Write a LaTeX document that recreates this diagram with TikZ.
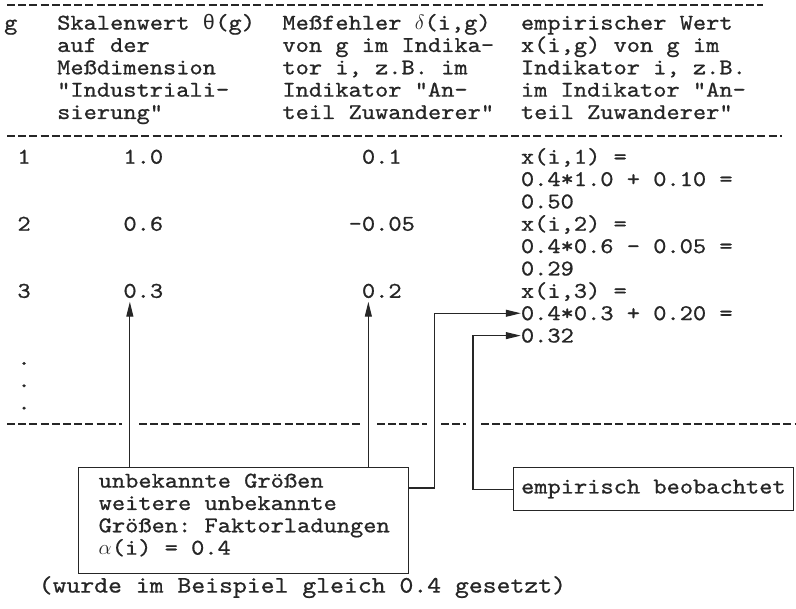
\documentclass[tikz,border=0pt]{standalone}
\usepackage{fontspec}
% typewriter face, widened to a 10-pitch grid
\setmonofont{lmmono10-regular.otf}[FakeStretch=1.12, FakeBold=0.8]
\newfontfamily\grk{Liberation Mono}
\usetikzlibrary{arrows.meta}
\definecolor{ink}{HTML}{262626}

% one typed cell: name, column, line, text
\newcommand\tcell[4]{\node[txt] (#1) at ({4+13.25*#2},{29.6+22.35*#3}) {#4};}
\newcommand\gth{{\grk\fontsize{21}{22}\selectfont θ}}

\begin{document}
\begin{tikzpicture}[x=1pt,y=-1pt,
  txt/.style={font=\ttfamily\fontsize{22.5}{22.35}\selectfont, inner sep=0pt,
              anchor=base west, text=ink},
  rule/.style={draw=ink, line width=2pt, dash pattern=on 8pt off 3.2pt},
  box/.style={draw=ink, line width=1.2pt, inner sep=0pt, anchor=north west},
  conn/.style={draw=ink, line width=1.1pt},
  arr/.style={conn, -{Triangle[length=15pt,width=7pt]}},
]
\useasboundingbox (0,0) rectangle (796,609);

% typed rules
\draw[rule] (7,5) -- (763,5);
\draw[rule] (7,136) -- (782,136);
\draw[rule] (7,424) -- (122,424);
\draw[rule] (139,424) -- (362,424);
\draw[rule] (377,424) -- (427,424);
\draw[rule] (441,424) -- (466,424);
\draw[rule] (481,424) -- (796,424);

% header
\tcell{hg}{0}{0}{g}
\tcell{ha0}{4}{0}{Skalenwert \gth(g)}
\tcell{ha1}{4}{1}{auf der}
\tcell{ha2}{4}{2}{Meßdimension}
\tcell{ha3}{4}{3}{"Industriali-}
\tcell{ha4}{4}{4}{sierung"}
\tcell{hb0}{21}{0}{Meßfehler $\delta$(i,g)}
\tcell{hb1}{21}{1}{von g im Indika-}
\tcell{hb2}{21}{2}{tor i, z.B. im}
\tcell{hb3}{21}{3}{Indikator "An-}
\tcell{hb4}{21}{4}{teil Zuwanderer"}
\tcell{hc0}{39}{0}{empirischer Wert}
\tcell{hc1}{39}{1}{x(i,g) von g im}
\tcell{hc2}{39}{2}{Indikator i, z.B.}
\tcell{hc3}{39}{3}{im Indikator "An-}
\tcell{hc4}{39}{4}{teil Zuwanderer"}

% rows
\tcell{g1}{1}{6}{1}
\tcell{t1}{9}{6}{1.0}
\tcell{d1}{27}{6}{0.1}
\tcell{x1a}{39}{6}{x(i,1) =}
\tcell{x1b}{39}{7}{0.4*1.0 + 0.10 =}
\tcell{x1c}{39}{8}{0.50}
\tcell{g2}{1}{9}{2}
\tcell{t2}{9}{9}{0.6}
\tcell{d2}{26}{9}{-0.05}
\tcell{x2a}{39}{9}{x(i,2) =}
\tcell{x2b}{39}{10}{0.4*0.6 - 0.05 =}
\tcell{x2c}{39}{11}{0.29}
\tcell{g3}{1}{12}{3}
\tcell{t3}{9}{12}{0.3}
\tcell{d3}{27}{12}{0.2}
\tcell{x3a}{39}{12}{x(i,3) =}
\tcell{x3b}{39}{13}{0.4*0.3 + 0.20 =}
\tcell{x3c}{39}{14}{0.32}
\tcell{dot1}{1}{15}{.}
\tcell{dot2}{1}{16}{.}
\tcell{dot3}{1}{17}{.}

% annotation boxes
\node[box, minimum width=330pt, minimum height=106pt] (unk) at (78,467) {};
\node[txt] (u1) at ([xshift=20.5pt,yshift=-20.6pt]unk.north west) {unbekannte Größen};
\node[txt] (u2) at ([xshift=20.5pt,yshift=-42.95pt]unk.north west) {weitere unbekannte};
\node[txt] (u3) at ([xshift=20.5pt,yshift=-65.3pt]unk.north west) {Größen: Faktorladungen};
\node[txt] (u4) at ([xshift=20.5pt,yshift=-87.65pt]unk.north west) {$\alpha$(i) = 0.4};

\node[box, font=\ttfamily\fontsize{22.5}{22.35}\selectfont, text=ink,
      inner xsep=7.5pt, minimum height=43pt] (emp) at (513,467) {empirisch beobachtet};

\node[txt, font=\ttfamily\fontsize{23.6}{24}\selectfont] (cap) at (38.5,592.6)
  {(wurde im Beispiel gleich 0.4 gesetzt)};

% connectors
\coordinate (tipA) at ([xshift=6.6pt,yshift=-3.5pt]t3.south west);
\coordinate (tipB) at ([xshift=6.6pt,yshift=-3.5pt]d3.south west);
\draw[arr] (tipA |- unk.north) -- (tipA);
\draw[arr] (tipB |- unk.north) -- (tipB);
\draw[arr] ([yshift=-21pt]unk.north east) -- ++(25pt,0pt) |- (x3b.west);
\draw[arr] (emp.west) -- ++(-40pt,0pt) |- (x3c.west);
\end{tikzpicture}
\end{document}
